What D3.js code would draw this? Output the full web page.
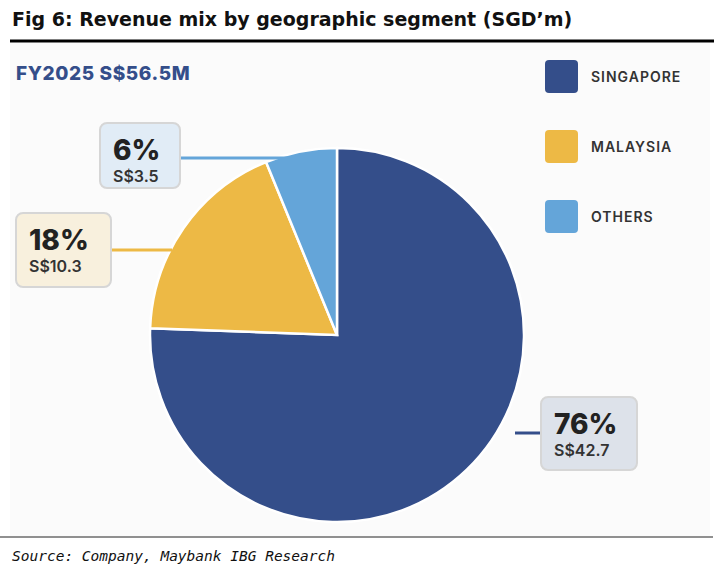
<!DOCTYPE html>
<html><head><meta charset="utf-8">
<script src="https://cdn.jsdelivr.net/npm/d3@7"></script>
<style>body{margin:0;background:#fff}</style>
</head><body><svg id="chart"></svg>
<script>
const categories = ["SINGAPORE", "MALAYSIA", "OTHERS"];
const values = [42.7, 10.3, 3.5];
const pctLabels = ["76%", "18%", "6%"];
const valueLabels = ["S$42.7", "S$10.3", "S$3.5"];
const colors = ["#344e8a", "#edb945", "#64a5d9"];
const boxFills = ["#dde2ea", "#f8f0dd", "#e1ecf6"];

const width = 728, height = 581;
const svg = d3.select("#chart").attr("width", width).attr("height", height);

svg.append("text").attr("x", 12).attr("y", 26)
    .attr("font-family", "DejaVu Sans").attr("font-weight", "bold").attr("font-size", 19)
    .attr("fill", "#111").text("Fig 6: Revenue mix by geographic segment (SGD’m)");
svg.append("line").attr("x1", 10).attr("x2", 714).attr("y1", 41).attr("y2", 41)
    .attr("stroke", "#000").attr("stroke-width", 3);
svg.append("rect").attr("x", 10).attr("y", 43).attr("width", 700).attr("height", 493).attr("fill", "#fbfbfb");
svg.append("line").attr("x1", 0).attr("x2", 713).attr("y1", 537).attr("y2", 537)
    .attr("stroke", "#222").attr("stroke-width", 1.2);
svg.append("text").attr("x", 12).attr("y", 561)
    .attr("font-family", "DejaVu Sans Mono").attr("font-style", "italic").attr("font-size", 14.5)
    .attr("fill", "#111").text("Source: Company, Maybank IBG Research");

svg.append("text").attr("x", 16).attr("y", 80)
    .attr("font-family", "Inter, Roboto").attr("font-weight", "800").attr("font-size", 19)
    .attr("letter-spacing", 0.6).attr("fill", "#344e8a").text("FY2025 S$56.5M");

const cx = 337, cy = 335, r = 187;
const pie = d3.pie().sort(null)(values);
const arc = d3.arc().innerRadius(0).outerRadius(r);
const g = svg.append("g").attr("transform", `translate(${cx},${cy})`);
g.selectAll("path").data(pie).enter().append("path")
    .attr("d", arc).attr("fill", (d, i) => colors[i])
    .attr("stroke", "#fff").attr("stroke-width", 2.5);

// leader lines and label boxes
const boxes = [
    {x: 541, y: 397, w: 96, h: 73, ly: 433, lx: 515},
    {x: 16, y: 213, w: 95, h: 74, ly: 250, lx: 172},
    {x: 100, y: 123, w: 80, h: 65, ly: 158, lx: 300}
];
boxes.forEach((b, i) => {
    const x1 = i === 0 ? b.lx : b.x + b.w;
    const x2 = i === 0 ? b.x : b.lx;
    svg.append("line").attr("x1", x1).attr("x2", x2).attr("y1", b.ly).attr("y2", b.ly)
        .attr("stroke", colors[i]).attr("stroke-width", 3);
    svg.append("rect").attr("x", b.x).attr("y", b.y).attr("width", b.w).attr("height", b.h)
        .attr("rx", 7).attr("fill", boxFills[i]).attr("stroke", "#d6d6d6").attr("stroke-width", 2);
    svg.append("text").attr("x", b.x + 13).attr("y", b.y + 37)
        .attr("font-family", "Inter, Roboto").attr("font-weight", "800").attr("font-size", 28)
        .attr("fill", "#222").text(pctLabels[i]);
    svg.append("text").attr("x", b.x + 13).attr("y", b.y + 59)
        .attr("font-family", "Inter, Roboto").attr("font-weight", "600").attr("font-size", 16)
        .attr("fill", "#333").text(valueLabels[i]);
});

const legendY = d3.scalePoint().domain(categories).range([77, 217]);
const lg = svg.append("g");
categories.forEach((c, i) => {
    lg.append("rect").attr("x", 545).attr("y", legendY(c) - 17).attr("width", 33).attr("height", 33)
        .attr("rx", 4).attr("fill", colors[i]);
    lg.append("text").attr("x", 591).attr("y", legendY(c) + 5)
        .attr("font-family", "Inter, Roboto").attr("font-weight", "600").attr("font-size", 14)
        .attr("letter-spacing", 1).attr("fill", "#333").text(c);
});
</script></body></html>
